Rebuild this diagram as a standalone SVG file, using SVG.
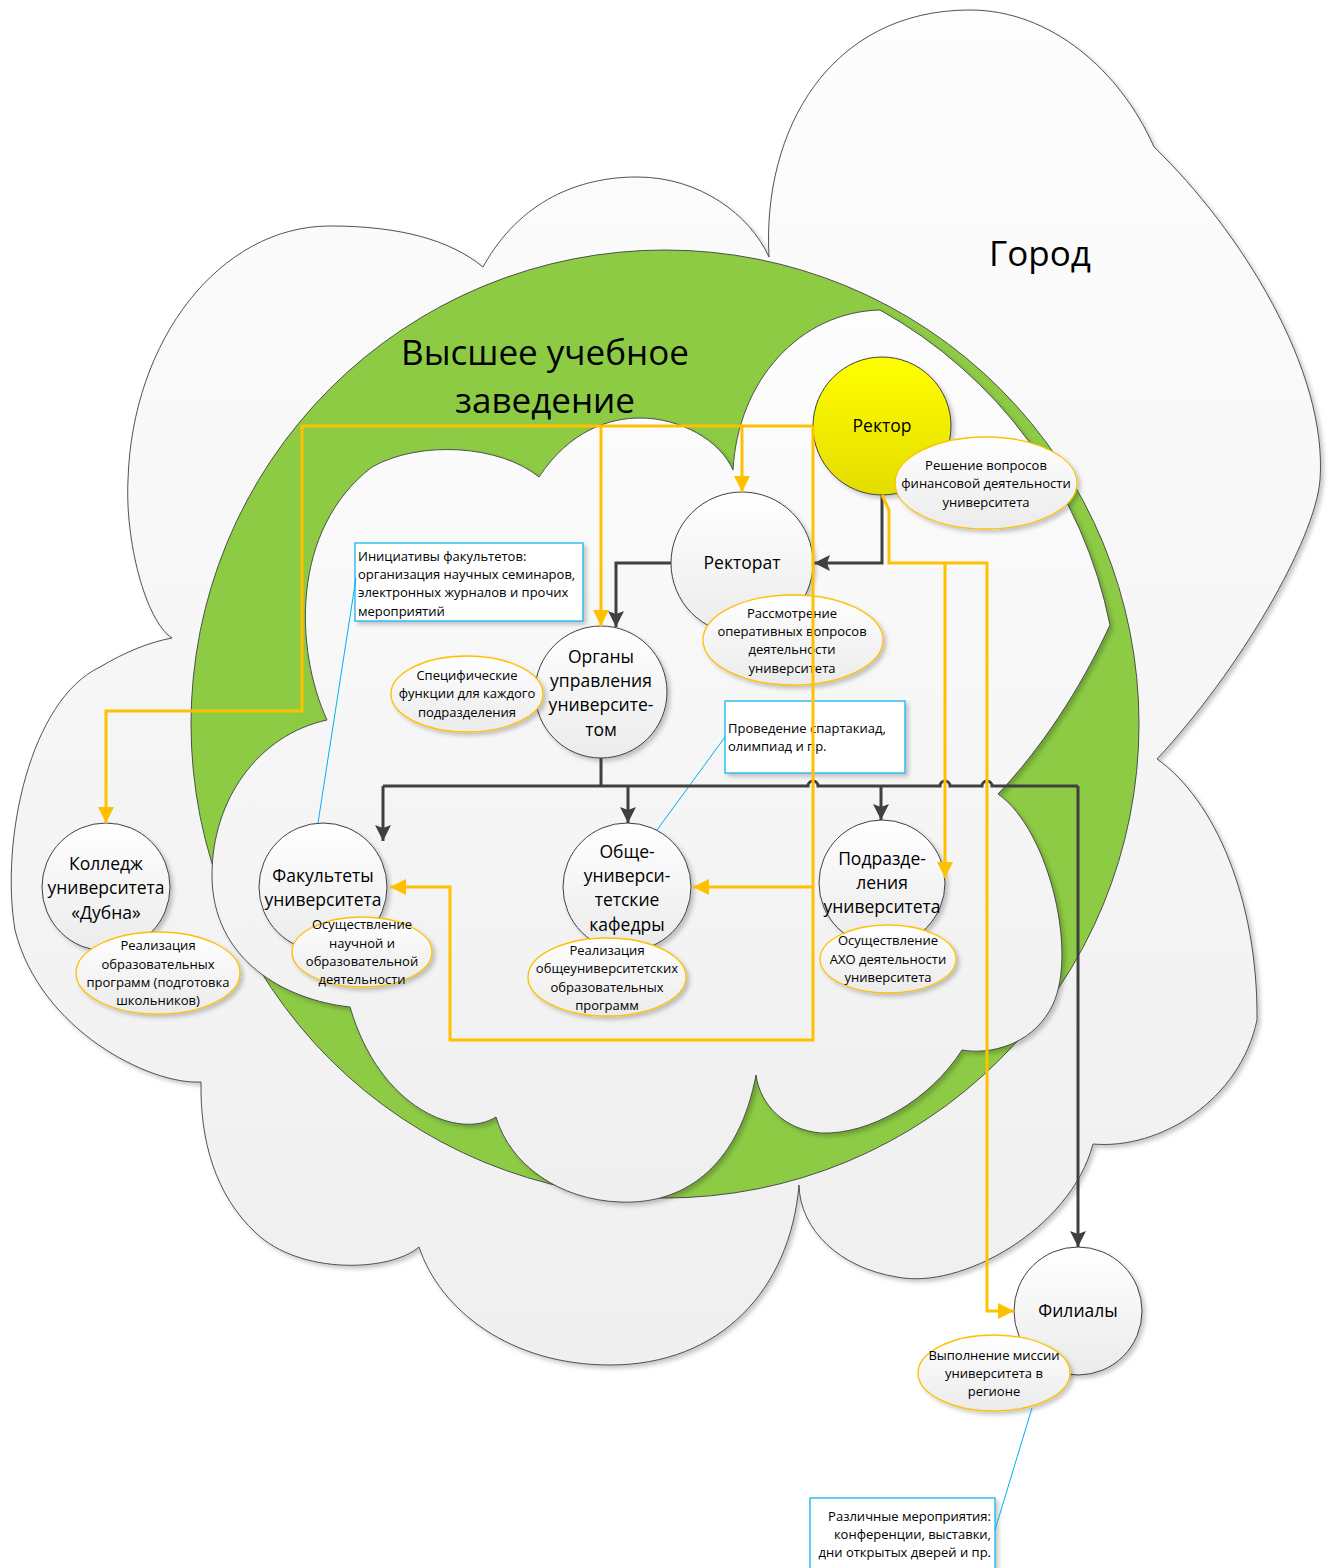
<svg xmlns="http://www.w3.org/2000/svg" width="1333" height="1568" viewBox="0 0 1333 1568">
  <defs>
    <linearGradient id="gCloud" x1="0" y1="0" x2="0" y2="1">
      <stop offset="0" stop-color="#fdfdfd"/>
      <stop offset="1" stop-color="#efefef"/>
    </linearGradient>
    <linearGradient id="gNode" x1="0" y1="0" x2="0" y2="1">
      <stop offset="0" stop-color="#ffffff"/>
      <stop offset="1" stop-color="#ebebeb"/>
    </linearGradient>
    <linearGradient id="gYellow" x1="0" y1="0" x2="0" y2="1">
      <stop offset="0" stop-color="#ffff00"/>
      <stop offset="1" stop-color="#e4dc00"/>
    </linearGradient>
    <filter id="shadow" x="-20%" y="-20%" width="140%" height="140%">
      <feDropShadow dx="3" dy="3" stdDeviation="2" flood-color="#000" flood-opacity="0.22"/>
    </filter>
    <marker id="arrowDark" viewBox="0 0 16 16" refX="16" refY="8" markerWidth="16" markerHeight="16" orient="auto" markerUnits="userSpaceOnUse">
      <path d="M0,0 L16,8 L0,16 L3,8 z" fill="#404040"/>
    </marker>
    <marker id="arrowGold" viewBox="0 0 16 16" refX="16" refY="8" markerWidth="16" markerHeight="16" orient="auto" markerUnits="userSpaceOnUse">
      <path d="M0,0 L16,8 L0,16 z" fill="#ffc000"/>
    </marker>
  </defs>
  <style>
    .cloud { fill: url(#gCloud); stroke: #404040; stroke-width: 0.9; }
    .ring { fill: #8dcb45; stroke: #404040; stroke-width: 0.9; }
    .node { fill: url(#gNode); stroke: #404040; stroke-width: 1; filter: url(#shadow); }
    .rector { fill: url(#gYellow); stroke: #404040; stroke-width: 1; filter: url(#shadow); }
    .note { fill: url(#gNode); stroke: #ffc000; stroke-width: 1.3; filter: url(#shadow); }
    .callout { fill: #ffffff; stroke: #00b0f0; stroke-width: 1.2; filter: url(#shadow); }
    .lead { fill: none; stroke: #00b0f0; stroke-width: 1; }
    .dark { fill: none; stroke: #404040; stroke-width: 3; }
    .gold { fill: none; stroke: #ffc000; stroke-width: 3; }
    .t17 { font-family: "Open Sans", "DejaVu Sans", sans-serif; font-size: 17.5px; text-anchor: middle; fill: #000; }
    .t13 { font-family: "Open Sans", "DejaVu Sans", sans-serif; font-size: 13px; text-anchor: middle; fill: #000; }
    .t13l { font-family: "Open Sans", "DejaVu Sans", sans-serif; font-size: 13px; fill: #000; }
    .t13r { font-family: "Open Sans", "DejaVu Sans", sans-serif; font-size: 13px; text-anchor: end; fill: #000; }
    .big { font-family: "Open Sans", "DejaVu Sans", sans-serif; font-size: 35px; text-anchor: middle; fill: #000; }
  </style>

  <!-- City cloud -->
  <g id="city">
    <path class="cloud" filter="url(#shadow)" d="M172,638 C145,620 125,540 128,480 C132,340 220,226 330,226 C400,226 450,240 483,267 C520,200 580,177 637,177 C700,177 750,215 769,257 C762,130 830,10 970,10 C1050,10 1120,70 1154,147 C1240,230 1328,370 1320,480 C1315,540 1240,670 1157,759 C1215,800 1258,900 1257,1020 C1240,1100 1160,1150 1093,1144 C1070,1230 960,1290 897,1277 C840,1268 800,1230 799,1185 C790,1290 720,1365 610,1365 C510,1365 440,1310 419,1247 C390,1272 300,1275 256,1233 C215,1195 200,1140 201,1082 C150,1085 40,1030 15,930 C0,840 30,700 100,667 C125,652 150,642 172,638 Z"/>
    <text class="big" x="1040" y="266">Город</text>
  </g>

  <!-- University: green ring with inner cloud -->
  <g id="university">
    <circle class="ring" cx="665" cy="724" r="474"/>
    <path class="cloud" filter="url(#shadow)" d="M327,720 C295,650 290,530 372,467 C420,440 500,445 539,477 C570,430 610,418 640,418 C680,418 720,440 733,470 C738,380 800,312 880,310 A466,466 0 0 1 1110,625 C1080,690 1040,750 998,794 C1050,830 1080,960 1050,1010 C1030,1045 990,1055 962,1050 C930,1100 870,1135 821,1133 C785,1130 760,1105 756,1075 C740,1160 690,1205 620,1202 C560,1200 510,1165 496,1117 C460,1140 380,1110 350,1007 C285,1000 212,960 212,875 C212,800 258,735 327,720 Z"/>
    <text class="big" x="545" y="365">Высшее учебное</text>
    <text class="big" x="545" y="413">заведение</text>
  </g>

  <!-- Nodes -->
  <g id="rector">
    <circle class="rector" cx="882" cy="426" r="69"/>
    <text class="t17" x="882" y="432">Ректор</text>
  </g>
  <g id="rector-note">
    <ellipse class="note" cx="986" cy="483" rx="91" ry="46"/>
    <text class="t13" x="986" y="470">Решение вопросов</text>
    <text class="t13" x="986" y="488">финансовой деятельности</text>
    <text class="t13" x="986" y="507">университета</text>
  </g>

  <g id="rectorate">
    <circle class="node" cx="742" cy="563" r="71"/>
    <text class="t17" x="742" y="569">Ректорат</text>
  </g>
  <g id="rectorate-note">
    <ellipse class="note" cx="793" cy="640" rx="90" ry="45"/>
    <text class="t13" x="792" y="618">Рассмотрение</text>
    <text class="t13" x="792" y="636">оперативных вопросов</text>
    <text class="t13" x="792" y="654">деятельности</text>
    <text class="t13" x="792" y="673">университета</text>
  </g>

  <g id="governance">
    <circle class="node" cx="601" cy="692" r="66"/>
    <text class="t17" x="601" y="663">Органы</text>
    <text class="t17" x="601" y="687">управления</text>
    <text class="t17" x="601" y="711">университе-</text>
    <text class="t17" x="601" y="736">том</text>
  </g>
  <g id="governance-note">
    <ellipse class="note" cx="467" cy="694" rx="76" ry="38"/>
    <text class="t13" x="467" y="680">Специфические</text>
    <text class="t13" x="467" y="698">функции для каждого</text>
    <text class="t13" x="467" y="717">подразделения</text>
  </g>

  <g id="faculty-initiatives">
    <rect class="callout" x="355" y="543" width="228" height="78"/>
    <text class="t13l" x="358" y="561">Инициативы факультетов:</text>
    <text class="t13l" x="358" y="579">организация научных семинаров,</text>
    <text class="t13l" x="358" y="597">электронных журналов и прочих</text>
    <text class="t13l" x="358" y="616">мероприятий</text>
  </g>

  <g id="sports-events">
    <rect class="callout" x="725" y="701" width="180" height="72"/>
    <text class="t13l" x="728" y="733">Проведение спартакиад,</text>
    <text class="t13l" x="728" y="751">олимпиад и пр.</text>
  </g>

  <g id="college">
    <circle class="node" cx="106" cy="887" r="64"/>
    <text class="t17" x="106" y="870">Колледж</text>
    <text class="t17" x="106" y="894">университета</text>
    <text class="t17" x="106" y="919">«Дубна»</text>
  </g>
  <g id="college-note">
    <ellipse class="note" cx="158" cy="973" rx="82" ry="41"/>
    <text class="t13" x="158" y="950">Реализация</text>
    <text class="t13" x="158" y="969">образовательных</text>
    <text class="t13" x="158" y="987">программ (подготовка</text>
    <text class="t13" x="158" y="1005">школьников)</text>
  </g>

  <g id="faculties">
    <circle class="node" cx="323" cy="887" r="64"/>
    <text class="t17" x="323" y="882">Факультеты</text>
    <text class="t17" x="323" y="906">университета</text>
  </g>
  <g id="faculties-note">
    <ellipse class="note" cx="362" cy="952" rx="70" ry="35"/>
    <text class="t13" x="362" y="929">Осуществление</text>
    <text class="t13" x="362" y="948">научной и</text>
    <text class="t13" x="362" y="966">образовательной</text>
    <text class="t13" x="362" y="984">деятельности</text>
  </g>

  <g id="departments">
    <circle class="node" cx="627" cy="887" r="64"/>
    <text class="t17" x="627" y="858">Обще-</text>
    <text class="t17" x="627" y="882">универси-</text>
    <text class="t17" x="627" y="906">тетские</text>
    <text class="t17" x="627" y="931">кафедры</text>
  </g>
  <g id="departments-note">
    <ellipse class="note" cx="607" cy="977" rx="79" ry="39"/>
    <text class="t13" x="607" y="955">Реализация</text>
    <text class="t13" x="607" y="973">общеуниверситетских</text>
    <text class="t13" x="607" y="992">образовательных</text>
    <text class="t13" x="607" y="1010">программ</text>
  </g>

  <g id="divisions">
    <circle class="node" cx="882" cy="883" r="63"/>
    <text class="t17" x="882" y="865">Подразде-</text>
    <text class="t17" x="882" y="889">ления</text>
    <text class="t17" x="882" y="913">университета</text>
  </g>
  <g id="divisions-note">
    <ellipse class="note" cx="888" cy="959" rx="68" ry="34"/>
    <text class="t13" x="888" y="945">Осуществление</text>
    <text class="t13" x="888" y="964">АХО деятельности</text>
    <text class="t13" x="888" y="982">университета</text>
  </g>

  <g id="branches">
    <circle class="node" cx="1078" cy="1311" r="64"/>
    <text class="t17" x="1078" y="1317">Филиалы</text>
  </g>
  <g id="branches-note">
    <ellipse class="note" cx="994" cy="1373" rx="76" ry="38"/>
    <text class="t13" x="994" y="1360">Выполнение миссии</text>
    <text class="t13" x="994" y="1378">университета в</text>
    <text class="t13" x="994" y="1396">регионе</text>
  </g>

  <g id="regional-events">
    <rect class="callout" x="810" y="1498" width="185" height="80"/>
    <text class="t13r" x="991" y="1521">Различные мероприятия:</text>
    <text class="t13r" x="991" y="1539">конференции, выставки,</text>
    <text class="t13r" x="991" y="1557">дни открытых дверей и пр.</text>
  </g>

  <!-- Connectors -->
  <g id="connectors">
    <!-- callout leaders -->
    <path class="lead" d="M356,578 L318,823"/>
    <path class="lead" d="M725,737 L657,830"/>
    <path class="lead" d="M995,1530 L1032,1408"/>

    <!-- management lines -->
    <path class="dark" marker-end="url(#arrowDark)" d="M882,495 V563 H814"/>
    <path class="dark" marker-end="url(#arrowDark)" d="M671,563 H616 V627"/>
    <path class="dark" d="M601,758 V786"/>
    <path class="dark" d="M383,786 H808 a5,5 0 0 1 10,0 H940 a5,5 0 0 1 10,0 H982 a5,5 0 0 1 10,0 H1078"/>
    <path class="dark" marker-end="url(#arrowDark)" d="M383,786 V841"/>
    <path class="dark" marker-end="url(#arrowDark)" d="M628,786 V823"/>
    <path class="dark" marker-end="url(#arrowDark)" d="M881,786 V820"/>
    <path class="dark" stroke-width="2" marker-end="url(#arrowDark)" d="M1078,786 V1247"/>

    <!-- coordination lines -->
    <path class="gold" marker-end="url(#arrowGold)" d="M813,426 H302 V711 H106 V823"/>
    <path class="gold" marker-end="url(#arrowGold)" d="M601,426 V626"/>
    <path class="gold" marker-end="url(#arrowGold)" d="M742,426 V492"/>
    <path class="gold" marker-end="url(#arrowGold)" d="M813,426 V1040 H450 V887 H390"/>
    <path class="gold" marker-end="url(#arrowGold)" d="M813,887 H693"/>
    <path class="gold" marker-end="url(#arrowGold)" d="M882,495 L889,510 V563 H987 V1311 H1014"/>
    <path class="gold" marker-end="url(#arrowGold)" d="M945,563 V878"/>
  </g>
</svg>
